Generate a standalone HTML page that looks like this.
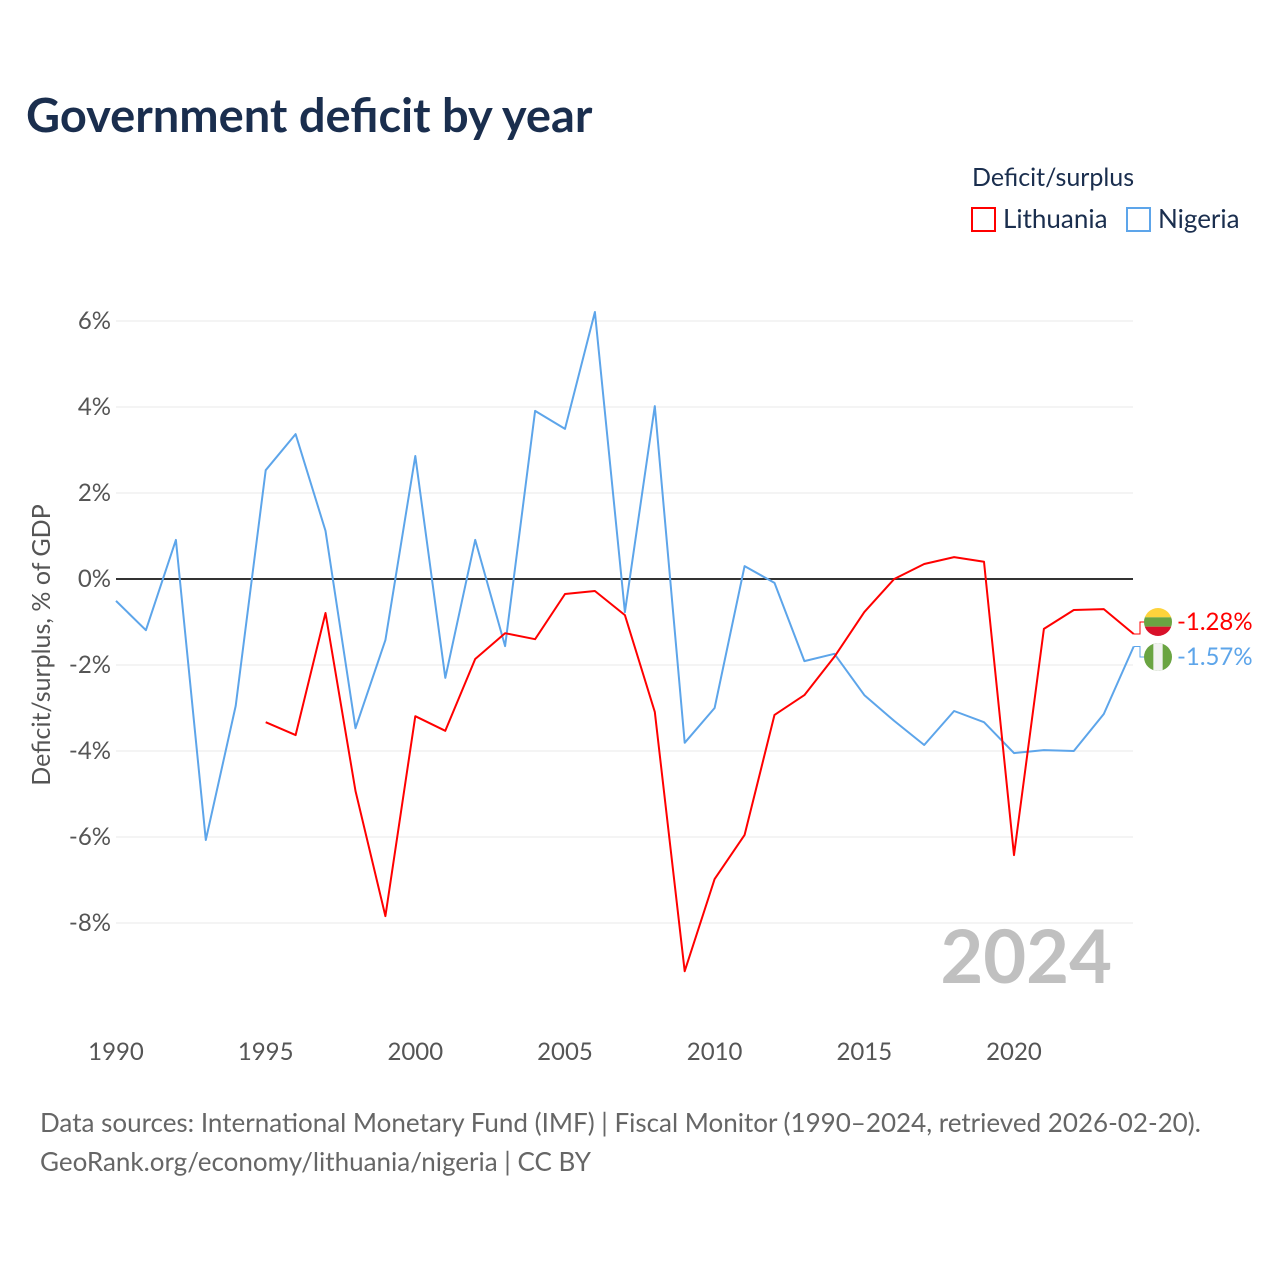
<!DOCTYPE html>
<html><head><meta charset="utf-8">
<style>
body{margin:0;background:#fff;font-family:"Liberation Sans",sans-serif;}
svg text{font-family:"Lato","Liberation Sans",sans-serif;}
</style></head>
<body>
<svg id="chart" width="1280" height="1280" viewBox="0 0 1280 1280" xmlns="http://www.w3.org/2000/svg">
<rect width="1280" height="1280" fill="#fff"/>
<text x="26" y="132" font-size="47" font-weight="bold" fill="#1a2e4e">Government deficit by year</text>
<text x="972" y="186" font-size="25" fill="#1a2e4e">Deficit/surplus</text>
<g>
<rect x="972" y="208" width="23" height="23" fill="none" stroke="#ff0000" stroke-width="2"/>
<text x="1003" y="228" font-size="26" fill="#1a2e4e">Lithuania</text></g>
<g>
<rect x="1127" y="208" width="23" height="23" fill="none" stroke="#5da5ea" stroke-width="2"/>
<text x="1158" y="228" font-size="26" fill="#1a2e4e">Nigeria</text></g>
<g id="grid"></g>
<g id="yticks"></g>
<g id="xticks"></g>
<text x="1112" y="983" font-size="74" font-weight="bold" fill="#c0c0c0" text-anchor="end">2024</text>
<text transform="translate(50,645) rotate(-90)" font-size="25" fill="#555" text-anchor="middle">Deficit/surplus, % of GDP</text>
<g id="series"></g>
<g id="endlabels"></g>
<text x="40" y="1132" font-size="26" fill="#666">Data sources: International Monetary Fund (IMF) | Fiscal Monitor (1990–2024, retrieved 2026-02-20).</text>
<text x="40" y="1171" font-size="26" fill="#666">GeoRank.org/economy/lithuania/nigeria | CC BY</text>
</svg>
<script>
const years=[];for(let y=1990;y<=2024;y++)years.push(y);
const nigeria=[-0.51,-1.19,0.91,-6.07,-2.95,2.53,3.37,1.12,-3.47,-1.42,2.86,-2.30,0.91,-1.56,3.91,3.49,6.21,-0.77,4.02,-3.81,-3.0,0.30,-0.09,-1.91,-1.74,-2.70,-3.30,-3.86,-3.07,-3.33,-4.05,-3.98,-4.0,-3.14,-1.57];
const lithuania=[null,null,null,null,null,-3.33,-3.63,-0.79,-4.93,-7.84,-3.19,-3.53,-1.86,-1.26,-1.40,-0.35,-0.28,-0.84,-3.09,-9.12,-6.98,-5.95,-3.16,-2.70,-1.81,-0.77,0.0,0.35,0.51,0.40,-6.42,-1.16,-0.72,-0.70,-1.28];
const yTicks=[6,4,2,0,-2,-4,-6,-8];
const xTicks=[1990,1995,2000,2005,2010,2015,2020];
const NS="http://www.w3.org/2000/svg";
const X=y=>116+(y-1990)*(1133.7-116)/34;
const Y=v=>579-v*43;
function mk(tag,attrs,parent){const e=document.createElementNS(NS,tag);for(const k in attrs)e.setAttribute(k,attrs[k]);parent.appendChild(e);return e;}
const grid=document.getElementById('grid'),yt=document.getElementById('yticks'),xt=document.getElementById('xticks');
yTicks.forEach(v=>{
 const l=mk('line',{x1:116,x2:1133,y1:Y(v),y2:Y(v),stroke:v===0?'#333':'#e8e8e8','stroke-width':v===0?2:1},grid);
 
 
 const t=mk('text',{x:111,y:Y(v)+8,'font-size':24,fill:'#555','text-anchor':'end'},yt);
 t.textContent=v+'%';
 
 
});
xTicks.forEach(y=>{
 const t=mk('text',{x:X(y),y:1060,'font-size':24,fill:'#555','text-anchor':'middle'},xt);
 t.textContent=y;
 
 
});
function line(data,color,name){
 let d='';data.forEach((v,i)=>{if(v===null)return;d+=(d?'L':'M')+X(years[i]).toFixed(1)+','+Y(v).toFixed(1);});
 const p=mk('path',{d:d,fill:'none',stroke:color,'stroke-width':2,'stroke-linejoin':'round'},document.getElementById('series'));
 
 
}
line(nigeria,'#5da5ea','nigeria-line');
line(lithuania,'#ff0000','lithuania-line');
const el=document.getElementById('endlabels');
function endLabel(v,ly,color,name,flag){
 const yv=Y(v);
 mk('path',{d:`M${X(2024)},${yv} L1140,${yv} L1140,${ly} L1145,${ly}`,fill:'none',stroke:color,'stroke-width':1},el);
 const g=mk('g',{},el);
 
 
 const cx=1158,r=14;
 const cp=mk('clipPath',{id:'c'+name},g);
 mk('circle',{cx:cx,cy:ly,r:r},cp);
 const cg=mk('g',{'clip-path':`url(#c${name})`},g);
 if(flag==='lt'){
  mk('rect',{x:cx-r,y:ly-r,width:2*r,height:2*r/3,fill:'#fdd33c'},cg);
  mk('rect',{x:cx-r,y:ly-r/3,width:2*r,height:2*r/3,fill:'#6aa442'},cg);
  mk('rect',{x:cx-r,y:ly+r/3,width:2*r,height:2*r/3,fill:'#d8112a'},cg);
 }else{
  mk('rect',{x:cx-r,y:ly-r,width:2*r,height:2*r,fill:'#6aa442'},cg);
  mk('rect',{x:cx-r/3,y:ly-r,width:2*r/3,height:2*r,fill:'#f2f2f2'},cg);
 }
 const t=mk('text',{x:1177,y:ly+8,'font-size':24,fill:color},el);
 t.textContent=v.toFixed(2)+'%';
 
 
}
endLabel(lithuania[lithuania.length-1],622,'#ff0000','lithuania','lt');
endLabel(nigeria[nigeria.length-1],657,'#5da5ea','nigeria','ng');
</script>
</body></html>
